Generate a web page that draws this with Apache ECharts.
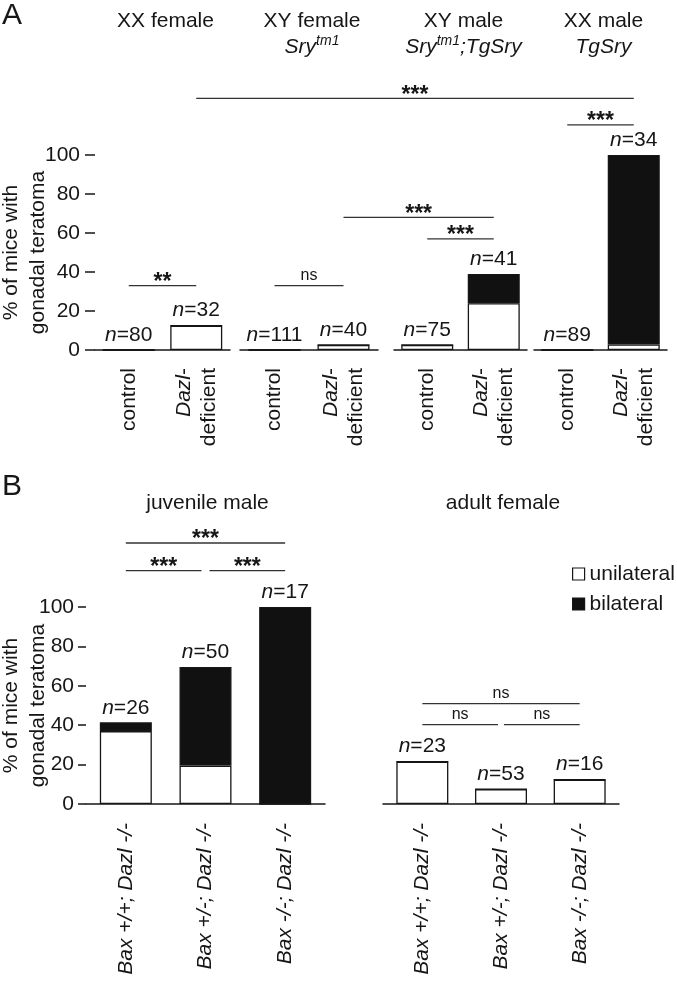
<!DOCTYPE html>
<html><head><meta charset="utf-8">
<script src="https://cdn.jsdelivr.net/npm/echarts@6/dist/echarts.min.js"></script>
<style>html,body{margin:0;padding:0;background:#fff}#c{width:677px;height:982px}</style>
</head><body><div id="c"></div>
<script>
const FONT = '"Liberation Sans", Arial, Helvetica, sans-serif';
// ---------- Panel A data ----------
const aGroups = ['XX female', 'XY female', 'XY male', 'XX male'];
const aGenotypes = ['', '{i|Sry}{sup|tm1}', '{i|Sry}{sup|tm1}{i|;TgSry}', '{i|TgSry}'];
const aCategories = ['control', 'Dazl-deficient'];
const aUnilateral = [[0, 12.5], [0, 2.6], [2.6, 24], [0, 2.8]];
const aBilateral  = [[0, 0], [0, 0], [0, 15], [0, 97.2]];
const aN = [[80, 32], [111, 40], [75, 41], [89, 34]];
// brackets: [grid, category] endpoints, level in % units
const aBrackets = [
  {from: [0, 0], to: [0, 1], level: 33, mark: '**'},
  {from: [1, 0], to: [1, 1], level: 33, mark: 'ns'},
  {from: [1, 1], to: [2, 1], level: 68, mark: '***'},
  {from: [2, 0], to: [2, 1], level: 57, mark: '***'},
  {from: [0, 1], to: [3, 1], level: 129, mark: '***'},
  {from: [3, 0], to: [3, 1], level: 115.5, mark: '***'}
];
// ---------- Panel B data ----------
const bGroups = ['juvenile male', 'adult female'];
const bCategories = ['Bax +/+; Dazl -/-', 'Bax +/-; Dazl -/-', 'Bax -/-; Dazl -/-'];
const bUnilateral = [[37, 19.5, 0], [21.5, 7.5, 12.3]];
const bBilateral  = [[4.5, 50, 100], [0, 0, 0]];
const bN = [[26, 50, 17], [23, 53, 16]];
const bBrackets = [
  {from: [4, 0], to: [4, 2], level: 132.5, mark: '***'},
  {from: [4, 0], to: [4, 1], level: 118.5, mark: '***', trimEnd: 4},
  {from: [4, 1], to: [4, 2], level: 118.5, mark: '***', trimStart: 4},
  {from: [5, 0], to: [5, 2], level: 51, mark: 'ns'},
  {from: [5, 0], to: [5, 1], level: 40.3, mark: 'ns', trimEnd: 3},
  {from: [5, 1], to: [5, 2], level: 40.3, mark: 'ns', trimStart: 3}
];
const yMin = 0, yMax = 100, yStep = 20;
const yName = '% of mice with\ngonadal teratoma';
const legendNames = ['unilateral', 'bilateral'];

// ---------- layout ----------
const gridsA = [{left: 95, width: 135}, {left: 240, width: 138}, {left: 394, width: 133}, {left: 534, width: 133}];
const gridsB = [{left: 86, width: 239}, {left: 383, width: 236}];
const A_TOP = 155, A_H = 195, B_TOP = 607, B_H = 197;
const INK = '#161616';

const chart = echarts.init(document.getElementById('c'), null, {renderer: 'canvas'});

const grid = [], xAxis = [], yAxis = [], series = [];
const allGroups = [];
gridsA.forEach((g, i) => allGroups.push({panel: 'A', idx: i, box: g}));
gridsB.forEach((g, i) => allGroups.push({panel: 'B', idx: i, box: g}));

allGroups.forEach((G, gi) => {
  const isA = G.panel === 'A';
  grid.push({left: G.box.left, width: G.box.width, top: isA ? A_TOP : B_TOP, height: isA ? A_H : B_H,
    containLabel: false, outerBoundsMode: 'none'});
  xAxis.push({
    type: 'category', gridIndex: gi, data: isA ? aCategories : bCategories,
    axisLine: {lineStyle: {color: INK, width: 1.5}},
    axisTick: {alignWithLabel: true, length: 10, lineStyle: {color: INK, width: 1.5}},
    axisLabel: isA ? {
      rotate: 90, margin: 18, interval: 0, color: INK, fontFamily: FONT, fontSize: 21, lineHeight: 25,
      formatter: v => v === 'Dazl-deficient' ? '{i|Dazl}-\ndeficient' : v,
      rich: {i: {fontStyle: 'italic', fontFamily: FONT, fontSize: 21, lineHeight: 25, color: INK}}
    } : {
      rotate: 90, margin: 19, interval: 0, color: INK, fontFamily: FONT, fontSize: 21, fontStyle: 'italic'
    }
  });
  const first = G.idx === 0;
  yAxis.push({
    type: 'value', gridIndex: gi, min: yMin, max: yMax, interval: yStep, show: first,
    axisLine: {show: false},
    axisTick: {show: true, length: isA ? 10 : 8, lineStyle: {color: INK, width: 1.5}},
    splitLine: {show: false},
    axisLabel: {color: INK, fontFamily: FONT, fontSize: 21, margin: isA ? 15 : 12},
    name: first ? yName : '', nameLocation: 'middle', nameGap: isA ? 43 : 34, nameRotate: 90,
    nameMoveOverlap: false,
    nameTextStyle: {color: INK, fontFamily: FONT, fontSize: 21, lineHeight: 27}
  });
  const uni = isA ? aUnilateral[G.idx] : bUnilateral[G.idx];
  const bil = isA ? aBilateral[G.idx] : bBilateral[G.idx];
  const ns = isA ? aN[G.idx] : bN[G.idx];
  series.push({
    name: 'unilateral', type: 'bar', xAxisIndex: gi, yAxisIndex: gi, stack: 's' + gi, barWidth: 52,
    data: uni, itemStyle: {color: '#ffffff', borderColor: INK, borderWidth: 1.3},
    emphasis: {disabled: true}, silent: true
  });
  series.push({
    name: 'bilateral', type: 'bar', xAxisIndex: gi, yAxisIndex: gi, stack: 's' + gi, barWidth: 52,
    data: bil, itemStyle: {color: '#111111', borderColor: INK, borderWidth: 1.3},
    emphasis: {disabled: true}, silent: true,
    label: {show: true, position: 'top', distance: 4, color: INK, fontFamily: FONT, fontSize: 21,
      formatter: p => '{i|n}=' + ns[p.dataIndex],
      rich: {i: {fontStyle: 'italic', fontFamily: FONT, fontSize: 21, color: INK}}}
  });
});

chart.setOption({
  animation: false,
  backgroundColor: '#ffffff',
  textStyle: {fontFamily: FONT},
  grid, xAxis, yAxis, series,
  legend: {
    orient: 'vertical', left: 567, top: 558, itemWidth: 12, itemHeight: 12, itemGap: 8, icon: 'rect',
    selectedMode: false,
    textStyle: {color: INK, fontFamily: FONT, fontSize: 21, lineHeight: 22},
    data: [
      {name: legendNames[0], itemStyle: {color: '#fff', borderColor: INK, borderWidth: 1.2}},
      {name: legendNames[1], itemStyle: {color: '#111', borderColor: INK, borderWidth: 1.2}}
    ]
  }
});

// ---------- annotations computed through the axes ----------
function catX(g, c) { return chart.convertToPixel({xAxisIndex: g}, c); }
function valY(g, v) { return chart.convertToPixel({yAxisIndex: g}, v); }
const graphic = [];
const txt = (x, y, text, size, extra) => Object.assign({
  type: 'text', x, y, silent: true,
  style: Object.assign({text, fill: INK, fontFamily: FONT, fontSize: size, align: 'center', verticalAlign: 'middle'}, extra || {})
});

graphic.push(txt(2, 16, 'A', 30, {align: 'left'}));
graphic.push(txt(2, 487, 'B', 30, {align: 'left'}));

aGroups.forEach((name, i) => {
  const cx = (catX(i, 0) + catX(i, 1)) / 2 + 3;
  const text = name + (aGenotypes[i] ? '\n' + aGenotypes[i] : '');
  graphic.push(txt(cx, 8, text, 21, {
    verticalAlign: 'top', lineHeight: 26,
    rich: {
      i: {fontStyle: 'italic', fontFamily: FONT, fontSize: 21, lineHeight: 26, fill: INK},
      sup: {fontStyle: 'italic', fontFamily: FONT, fontSize: 14, lineHeight: 26, verticalAlign: 'top', fill: INK}
    }
  }));
});
bGroups.forEach((name, i) => {
  const g = 4 + i;
  const cx = (catX(g, 0) + catX(g, 2)) / 2 + 2;
  graphic.push(txt(cx, 503, name, 21));
});

aBrackets.concat(bBrackets).forEach(b => {
  const x1 = catX(b.from[0], b.from[1]) + (b.trimStart || 0);
  const x2 = catX(b.to[0], b.to[1]) - (b.trimEnd || 0);
  const y = valY(b.from[0], b.level);
  graphic.push({type: 'line', silent: true, shape: {x1, y1: y, x2, y2: y}, style: {stroke: '#333', lineWidth: 1.3}});
  if (b.mark === 'ns') graphic.push(txt((x1 + x2) / 2, y - 10, 'ns', 16));
  else graphic.push(txt((x1 + x2) / 2, y - 3, b.mark, 23, {fontWeight: 'bold'}));
});

chart.setOption({graphic});
</script>
</body></html>
